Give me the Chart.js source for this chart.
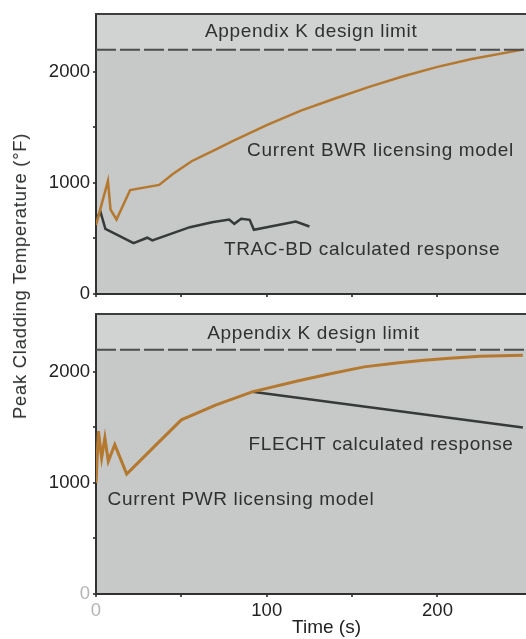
<!DOCTYPE html>
<html>
<head>
<meta charset="utf-8">
<script src="https://cdn.jsdelivr.net/npm/chart.js@4.4.1/dist/chart.umd.min.js"></script>
<style>
  html, body { margin: 0; padding: 0; background: #fff; overflow: hidden; width: 526px; height: 639px; }
  #wrap { position: relative; width: 526px; height: 639px; overflow: hidden; }
  canvas { position: absolute; left: 0; }
  #topChart { top: 0; }
  #bottomChart { top: 300px; }
  #ytitle {
    position: absolute; left: 20px; top: 276px;
    transform: translate(-50%, -50%) rotate(-90deg);
    white-space: nowrap; font: 18.5px "Liberation Sans", Arial, sans-serif;
    letter-spacing: 0.7px; color: #2e3130;
  }
</style>
</head>
<body>
<div id="wrap">
  <canvas id="topChart" width="560" height="308"></canvas>
  <canvas id="bottomChart" width="560" height="339"></canvas>
  <div id="ytitle">Peak Cladding Temperature (°F)</div>
</div>
<script>
// ---- Data: time in seconds, temperature in °F ----
const limitTime = [0, 270];
const limitTemp = [2200, 2200];

// Upper panel (BWR)
const bwrTime = [0, 7, 8.5, 12, 20, 37, 45, 56, 70, 80, 100, 120, 140, 160, 180, 200, 220, 250];
const bwrTemp = [620, 1018, 760, 670, 935, 982, 1080, 1195, 1300, 1375, 1520, 1650, 1760, 1865, 1960, 2045, 2115, 2200];
const tracTime = [0, 2.5, 5.5, 22, 30, 33, 55, 68, 78, 81, 85, 90, 92.5, 117, 125];
const tracTemp = [660, 745, 585, 458, 506, 482, 601, 646, 670, 631, 676, 667, 577, 652, 607];

// Lower panel (PWR)
const pwrTime = [0, 1.4, 3.3, 5.2, 7.2, 11, 18, 35, 50, 70, 91.5, 118.6, 138, 157, 176, 192, 205, 225, 250];
const pwrTemp = [1000, 1465, 1225, 1405, 1195, 1345, 1080, 1340, 1568, 1700, 1820, 1920, 1985, 2045, 2080, 2105, 2120, 2140, 2150];
const flechtTime = [0, 1.4, 3.3, 5.2, 7.2, 11, 18, 35, 50, 70, 91.5, 250];
const flechtTemp = [1000, 1465, 1225, 1405, 1195, 1345, 1080, 1340, 1568, 1700, 1820, 1500];
const flechtSplit = 10; // index where FLECHT leaves the licensing curve

// Axis ticks
const yTicks = [0, 500, 1000, 1500, 2000];
const xTickStep = 50;
const xLabelStep = 100;
const yLabelStep = 1000;

const FONT = '"Liberation Sans", Arial, Helvetica, sans-serif';
const ORANGE = '#b5782f';
const DARK = '#363a39';

const pts = (xs, ys) => xs.map((x, i) => ({ x, y: ys[i] }));

// Plot-area shading, limit band and the top frame line
const panelPlugin = {
  id: 'panel',
  beforeDraw(chart) {
    const { ctx, chartArea: a, scales: { y } } = chart;
    const yl = y.getPixelForValue(limitTemp[0]);
    ctx.save();
    ctx.fillStyle = '#c6c9c8';
    ctx.fillRect(a.left, a.top, a.right - a.left, a.bottom - a.top);
    ctx.fillStyle = '#d0d3d2';
    ctx.fillRect(a.left, a.top, a.right - a.left, yl - a.top);
    ctx.restore();
  },
  afterDraw(chart) {
    const { ctx, chartArea: a } = chart;
    ctx.save();
    ctx.strokeStyle = '#3c3f3e';
    ctx.lineWidth = 2;
    ctx.beginPath();
    ctx.moveTo(a.left - 1, a.top);
    ctx.lineTo(a.right, a.top);
    ctx.stroke();
    ctx.restore();
  }
};

// Text notes placed in data coordinates
const notesPlugin = {
  id: 'notes',
  afterDatasetsDraw(chart, args, opts) {
    const { ctx, scales: { x, y } } = chart;
    ctx.save();
    ctx.font = '19px ' + FONT;
    if ('letterSpacing' in ctx) ctx.letterSpacing = '0.65px';
    ctx.fillStyle = '#2e3130';
    ctx.textAlign = 'center';
    ctx.textBaseline = 'middle';
    (opts.items || []).forEach(n => {
      ctx.fillText(n.text, x.getPixelForValue(n.t), y.getPixelForValue(n.v));
    });
    ctx.restore();
  }
};

function limitDataset() {
  return {
    data: pts(limitTime, limitTemp),
    borderColor: '#4b4e4d',
    borderWidth: 2,
    borderDash: [20, 4],
    pointRadius: 0
  };
}

function makeOptions(isBottom, notes) {
  return {
    responsive: false,
    animation: false,
    devicePixelRatio: 1,
    layout: { padding: { top: 13, left: 0, right: 0, bottom: 0 } },
    plugins: {
      legend: { display: false },
      tooltip: { enabled: false },
      notes: { items: notes }
    },
    scales: {
      x: {
        type: 'linear', min: 0, max: 270,
        border: { color: '#2f3231', width: 2 },
        grid: { drawOnChartArea: false, drawTicks: true, tickLength: 3, color: '#555', lineWidth: 2 },
        ticks: {
          stepSize: xTickStep,
          padding: 3,
          font: { family: FONT, size: 18.5 },
          color: c => (c.tick && c.tick.value === 0) ? '#b3b5b3' : '#222',
          callback: v => (isBottom && v % xLabelStep === 0) ? String(v) : ''
        },
        title: isBottom ? {
          display: true, text: 'Time (s)',
          font: { family: FONT, size: 19 }, color: '#222',
          padding: { top: 0, bottom: 0 }
        } : { display: false },
        afterFit: s => { s.height = isBottom ? 45 : 14; }
      },
      y: {
        type: 'linear', min: 0, max: 2520,
        border: { color: '#2f3231', width: 2 },
        grid: { drawOnChartArea: false, drawTicks: true, tickLength: 3, color: '#555', lineWidth: 2 },
        afterBuildTicks: s => { s.ticks = yTicks.map(v => ({ value: v })); },
        ticks: {
          padding: 3,
          font: { family: FONT, size: 18.5 },
          color: c => (isBottom && c.tick && c.tick.value === 0) ? '#b3b5b3' : '#222',
          callback: v => (v % yLabelStep === 0) ? String(v) : ''
        },
        afterFit: s => { s.width = 96; }
      }
    }
  };
}

new Chart(document.getElementById('topChart'), {
  type: 'line',
  data: {
    datasets: [
      limitDataset(),
      { data: pts(bwrTime, bwrTemp), borderColor: ORANGE, borderWidth: 2.5, pointRadius: 0 },
      { data: pts(tracTime, tracTemp), borderColor: DARK, borderWidth: 2.5, pointRadius: 0 }
    ]
  },
  options: makeOptions(false, [
    { text: 'Appendix K design limit', t: 126, v: 2357 },
    { text: 'Current BWR licensing model', t: 166.6, v: 1286 },
    { text: 'TRAC-BD calculated response', t: 155.8, v: 393 }
  ]),
  plugins: [panelPlugin, notesPlugin]
});

new Chart(document.getElementById('bottomChart'), {
  type: 'line',
  data: {
    datasets: [
      limitDataset(),
      { data: pts(pwrTime, pwrTemp), borderColor: ORANGE, borderWidth: 3, pointRadius: 0 },
      {
        data: pts(flechtTime, flechtTemp), borderColor: DARK, borderWidth: 2.5, pointRadius: 0,
        segment: {
          borderColor: c => c.p0DataIndex < flechtSplit ? 'rgba(110,112,104,0.7)' : DARK,
          borderWidth: c => c.p0DataIndex < flechtSplit ? 2 : 2.5
        }
      }
    ]
  },
  options: makeOptions(true, [
    { text: 'Appendix K design limit', t: 127.3, v: 2339 },
    { text: 'FLECHT calculated response', t: 166.9, v: 1348 },
    { text: 'Current PWR licensing model', t: 84.9, v: 848 }
  ]),
  plugins: [panelPlugin, notesPlugin]
});
</script>
</body>
</html>
